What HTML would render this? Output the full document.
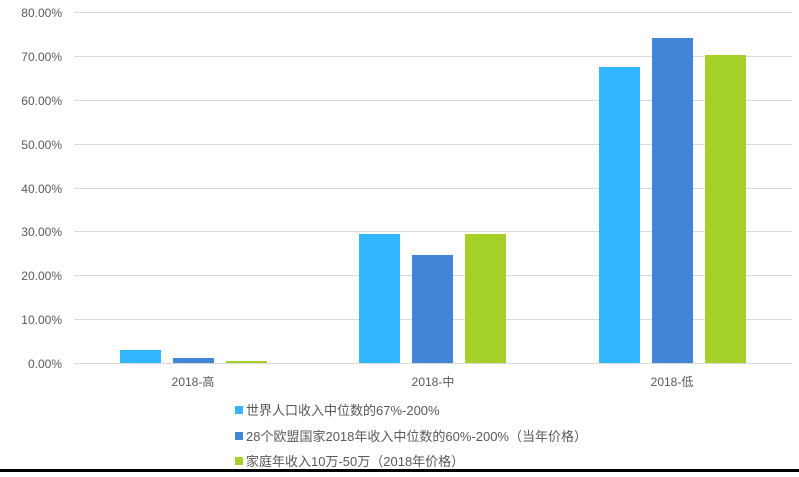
<!DOCTYPE html>
<html><head><meta charset="utf-8"><style>
body{margin:0;background:#fff;}
svg text{font-family:"Liberation Sans","Noto Sans CJK SC",sans-serif;fill:#595959;}
</style></head><body>
<svg width="799" height="472" xmlns="http://www.w3.org/2000/svg">
<rect width="799" height="472" fill="#fff"/>
<g stroke="#d9d9d9" stroke-width="1">
<line x1="74" x2="792" y1="12.5" y2="12.5"/>
<line x1="74" x2="792" y1="56.5" y2="56.5"/>
<line x1="74" x2="792" y1="100.5" y2="100.5"/>
<line x1="74" x2="792" y1="144.5" y2="144.5"/>
<line x1="74" x2="792" y1="188.5" y2="188.5"/>
<line x1="74" x2="792" y1="231.5" y2="231.5"/>
<line x1="74" x2="792" y1="275.5" y2="275.5"/>
<line x1="74" x2="792" y1="319.5" y2="319.5"/>
<line x1="74" x2="792" y1="363.5" y2="363.5"/>
</g>
<g font-size="12" text-anchor="end">
<text x="62" y="17">80.00%</text>
<text x="62" y="61">70.00%</text>
<text x="62" y="105">60.00%</text>
<text x="62" y="149">50.00%</text>
<text x="62" y="193">40.00%</text>
<text x="62" y="236">30.00%</text>
<text x="62" y="280">20.00%</text>
<text x="62" y="324">10.00%</text>
<text x="62" y="368">0.00%</text>
</g>
<g>
<rect x="120" y="350" width="41" height="13" fill="#33B5FF"/>
<rect x="173" y="358" width="41" height="5" fill="#4285D4"/>
<rect x="226" y="361" width="41" height="2" fill="#A5D028"/>
<rect x="359" y="234" width="41" height="129" fill="#33B5FF"/>
<rect x="412" y="255" width="41" height="108" fill="#4285D4"/>
<rect x="465" y="234" width="41" height="129" fill="#A5D028"/>
<rect x="599" y="67" width="41" height="296" fill="#33B5FF"/>
<rect x="652" y="38" width="41" height="325" fill="#4285D4"/>
<rect x="705" y="55" width="41" height="308" fill="#A5D028"/>
</g>
<g font-size="12" text-anchor="middle">
<text x="193" y="386">2018-高</text>
<text x="433" y="386">2018-中</text>
<text x="672" y="386">2018-低</text>
</g>
<g font-size="13">
<rect x="235" y="406" width="8" height="8" fill="#33B5FF"/>
<text x="246" y="415">世界人口收入中位数的67%-200%</text>
<rect x="235" y="432" width="8" height="8" fill="#4285D4"/>
<text x="246" y="441">28个欧盟国家2018年收入中位数的60%-200%（当年价格）</text>
<rect x="235" y="457" width="8" height="8" fill="#A5D028"/>
<text x="246" y="466">家庭年收入10万-50万（2018年价格）</text>
</g>
<rect x="0" y="469" width="799" height="3" fill="#000"/>
</svg>
</body></html>
